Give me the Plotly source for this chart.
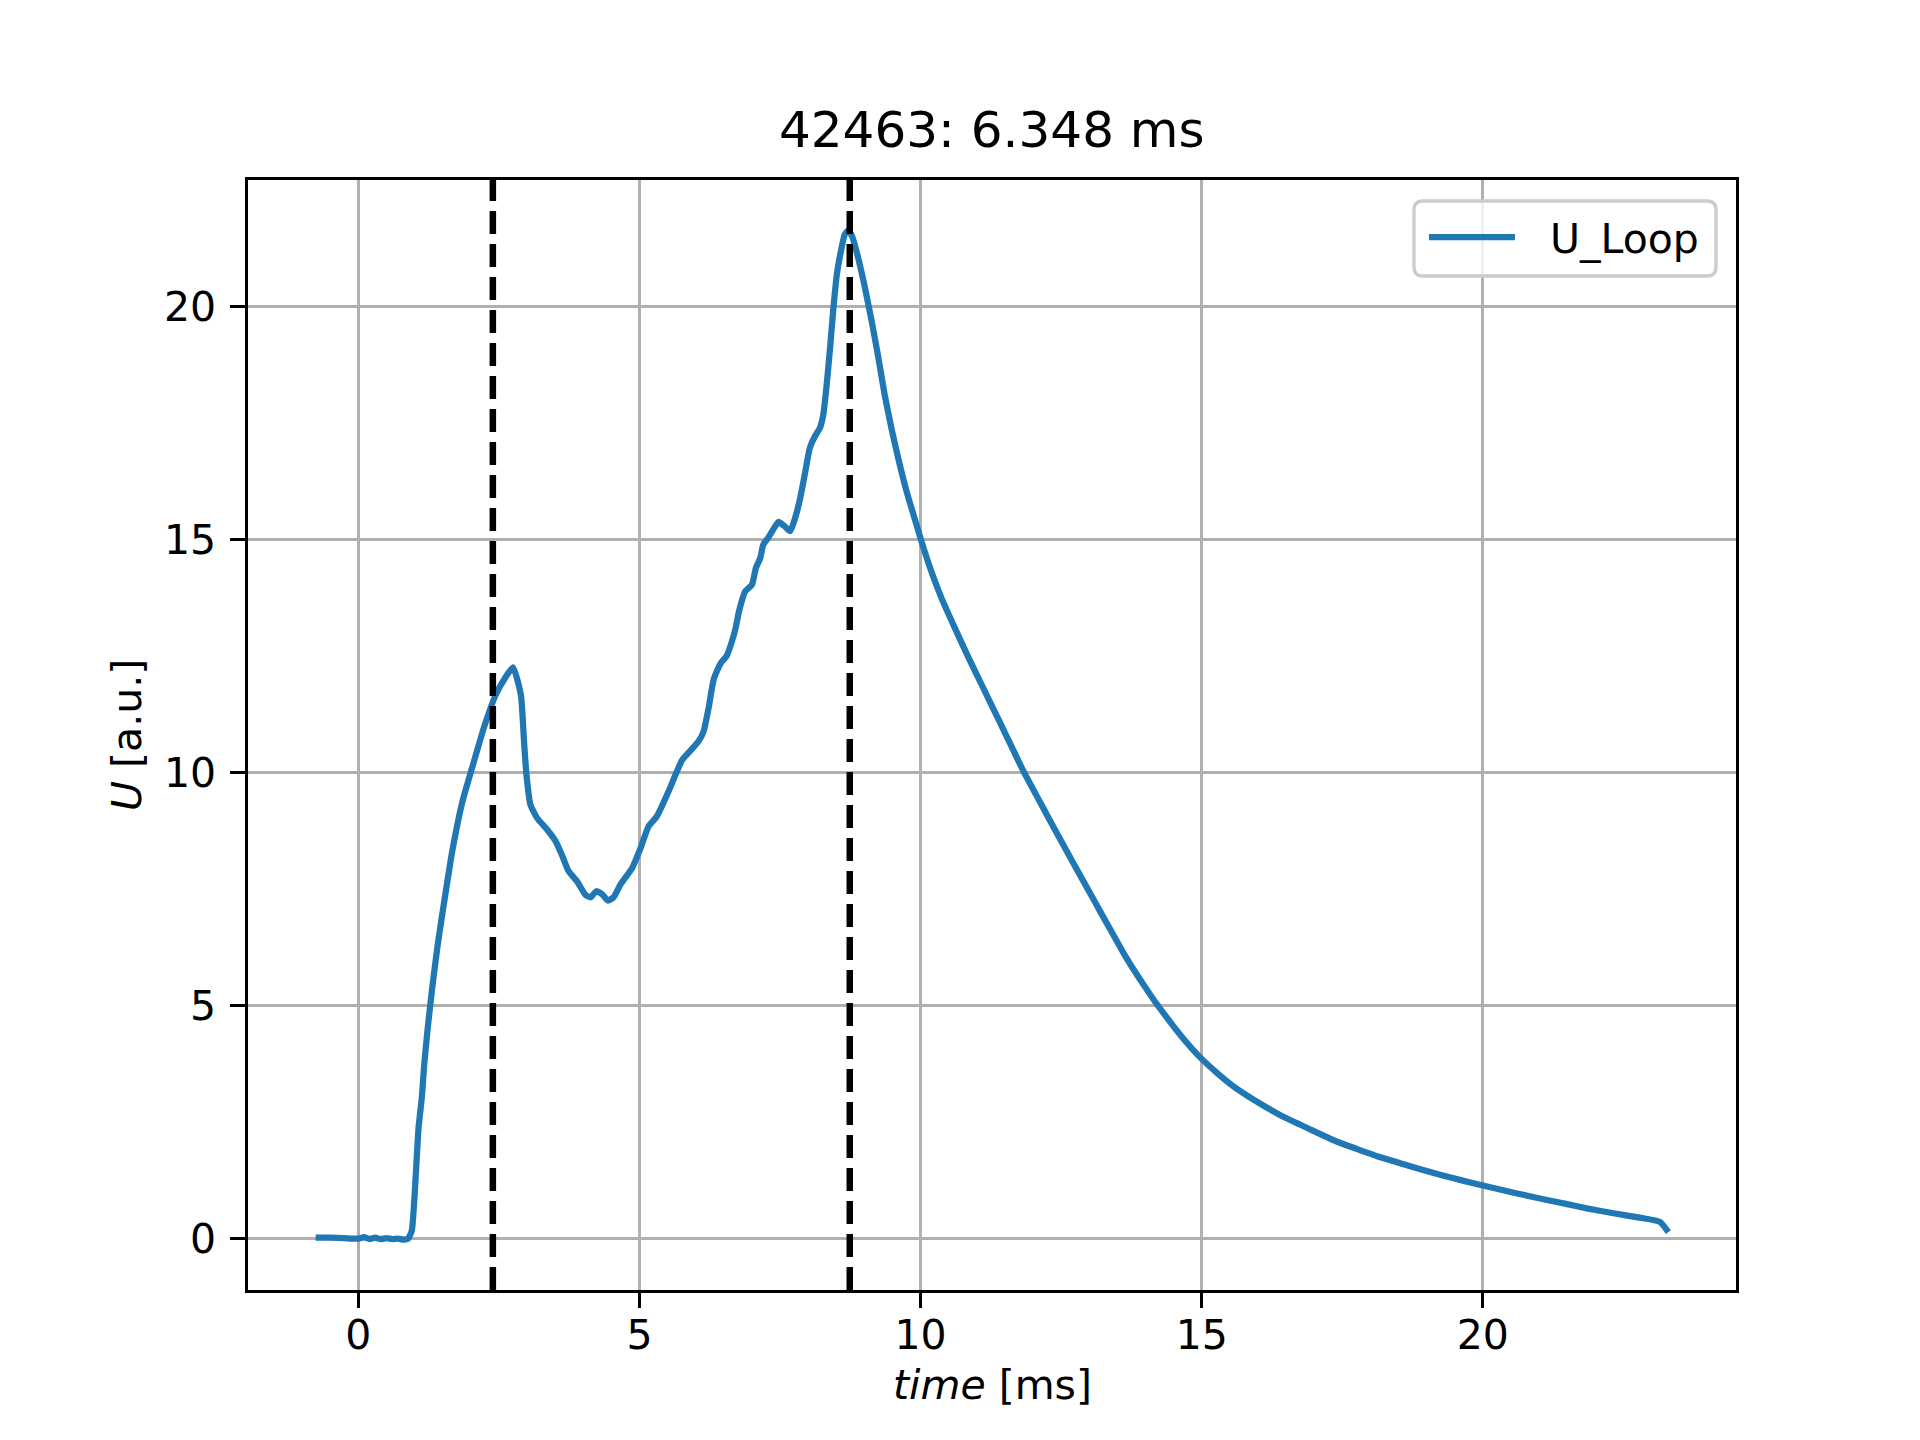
"""
Loop voltage trace for shot 42463 with the two marker times (dashed).
"""

import plotly.graph_objects as go

# time base [ms] and loop voltage [a.u.]
time_ms = [
    -0.76, -0.5, -0.25, 0.0, 0.1, 0.2, 0.3, 0.4, 0.5, 0.6, 0.7, 0.8, 0.88,
    0.95, 1.01, 1.07, 1.13, 1.17, 1.23, 1.31, 1.41, 1.53, 1.67, 1.85, 2.03,
    2.24, 2.44, 2.62, 2.75, 2.89, 2.95, 2.99, 3.06, 3.18, 3.36, 3.51, 3.63,
    3.74, 3.89, 4.04, 4.13, 4.23, 4.34, 4.44, 4.54, 4.66, 4.87, 5.02, 5.16,
    5.31, 5.52, 5.64, 5.76, 5.87, 6.05, 6.14, 6.23, 6.32, 6.44, 6.55, 6.64,
    6.71, 6.77, 6.88, 7.0, 7.07, 7.15, 7.2, 7.29, 7.38, 7.47, 7.58, 7.68,
    7.77, 7.86, 7.94, 8.03, 8.12, 8.21, 8.27, 8.33, 8.39, 8.45, 8.51, 8.57,
    8.65, 8.71, 8.78, 8.89, 9.01, 9.13, 9.25, 9.36, 9.48, 9.6, 9.75, 9.9,
    10.0, 10.19, 10.37, 10.61, 10.84, 11.08, 11.3, 11.49, 11.82, 12.05, 12.26,
    12.5, 12.74, 13.0, 13.21, 13.42, 13.62, 13.82, 14.0, 14.18, 14.36, 14.53,
    14.69, 14.85, 15.0, 15.25, 15.52, 15.78, 16.05, 16.46, 16.94, 17.41, 17.75,
    18.12, 18.5, 18.89, 19.27, 19.66, 20.0, 20.57, 21.14, 21.5, 21.85, 22.3,
    22.79, 23.15, 23.3,
]
u_loop = [
    0.01, 0.01, 0.0, -0.01, 0.02, -0.02, 0.01, -0.02, 0.0, -0.02, -0.01, -0.03, -0.02,
    0.16, 1.12, 2.36, 3.04, 3.71, 4.47, 5.34, 6.29, 7.25, 8.31, 9.37, 10.13,
    10.99, 11.66, 12.05, 12.26, 11.67, 10.6, 9.95, 9.31, 9.02, 8.77, 8.52, 8.2,
    7.88, 7.66, 7.37, 7.32, 7.45, 7.38, 7.25, 7.32, 7.59, 7.95, 8.38, 8.84,
    9.06, 9.6, 9.95, 10.27, 10.42, 10.67, 10.88, 11.39, 12.0, 12.34, 12.5, 12.8,
    13.1, 13.46, 13.89, 14.03, 14.39, 14.61, 14.89, 15.04, 15.22, 15.38, 15.29, 15.18,
    15.47, 15.9, 16.4, 16.97, 17.22, 17.4, 17.69, 18.33, 19.12, 19.98, 20.69, 21.12,
    21.55, 21.64, 21.52, 21.05, 20.41, 19.69, 18.9, 18.12, 17.4, 16.76, 16.04, 15.43,
    15.02, 14.32, 13.75, 13.1, 12.5, 11.9, 11.35, 10.88, 10.05, 9.53, 9.06,
    8.53, 8.0, 7.44, 6.98, 6.53, 6.1, 5.71, 5.38, 5.06, 4.77, 4.5,
    4.26, 4.04, 3.85, 3.57, 3.3, 3.08, 2.88, 2.6, 2.33, 2.07, 1.92,
    1.76, 1.62, 1.48, 1.35, 1.23, 1.13, 0.97, 0.82, 0.73, 0.64, 0.54,
    0.44, 0.35, 0.13,
]

# marker times [ms]
marker_times = [2.392, 8.740]

shot = 42463
x_ticks = [0, 5, 10, 15, 20]
y_ticks = [0, 5, 10, 15, 20]

FONT = 'DejaVu Sans'
W, H = 1920, 1440
# axes box in pixels (matplotlib default subplot params)
L, R, T, B = 240, 1728, 172, 1282


def padded(vals, frac=0.05):
    lo, hi = min(vals), max(vals)
    span = hi - lo
    return [lo - frac * span, hi + frac * span]


def px(x):
    # pixel column -> paper x
    return (x - L) / (R - L)


def py(y):
    # pixel row -> paper y
    return (B - y) / (B - T)


fig = go.Figure()

fig.add_trace(go.Scatter(
    x=time_ms,
    y=u_loop,
    mode='lines',
    name='U_Loop',
    line=dict(color='#1f77b4', width=6.25, shape='spline', smoothing=0.5),
    showlegend=False,
))

for t in marker_times:
    fig.add_vline(x=t, line=dict(color='black', width=6.5, dash='23px,10px'), layer='above')

axis_common = dict(
    showline=True,
    linecolor='black',
    linewidth=3.3,
    mirror=True,
    ticks='outside',
    ticklen=14.6,
    tickwidth=3.3,
    tickcolor='black',
    showgrid=True,
    gridcolor='#b0b0b0',
    gridwidth=3.3,
    zeroline=False,
    tickfont=dict(family=FONT, size=41, color='black'),
)

fig.update_xaxes(range=padded(time_ms), tickvals=x_ticks, ticklabelstandoff=-8, **axis_common)
fig.update_yaxes(range=padded(u_loop), tickvals=y_ticks, ticklabelstandoff=6, **axis_common)

delta = marker_times[1] - marker_times[0]

fig.add_annotation(
    text=f'{shot}: {delta:.3f} ms',
    xref='paper', yref='paper', x=0.5, y=1,
    xanchor='center', yanchor='bottom', yshift=19,
    showarrow=False, font=dict(family=FONT, size=50, color='black'),
)
fig.add_annotation(
    text='<i>time</i> [ms]',
    xref='paper', yref='paper', x=0.5, y=py(1377),
    xanchor='center', yanchor='middle',
    showarrow=False, font=dict(family=FONT, size=41, color='black'),
)
fig.add_annotation(
    text='<i>U</i> [a.u.]',
    xref='paper', yref='paper', x=px(119), y=0.5,
    xanchor='center', yanchor='middle', textangle=-90,
    showarrow=False, font=dict(family=FONT, size=41, color='black'),
)

# legend box (rounded) drawn by hand to match the matplotlib frame
lx0, lx1, ly0, ly1, rad = 1406, 1708, 193, 268, 9
legend_path = (
    f'M {px(lx0 + rad)},{py(ly0)} L {px(lx1 - rad)},{py(ly0)} '
    f'Q {px(lx1)},{py(ly0)} {px(lx1)},{py(ly0 + rad)} '
    f'L {px(lx1)},{py(ly1 - rad)} Q {px(lx1)},{py(ly1)} {px(lx1 - rad)},{py(ly1)} '
    f'L {px(lx0 + rad)},{py(ly1)} Q {px(lx0)},{py(ly1)} {px(lx0)},{py(ly1 - rad)} '
    f'L {px(lx0)},{py(ly0 + rad)} Q {px(lx0)},{py(ly0)} {px(lx0 + rad)},{py(ly0)} Z'
)
fig.add_shape(
    type='path', path=legend_path, xref='paper', yref='paper',
    fillcolor='rgba(255,255,255,0.8)', line=dict(color='#cccccc', width=3.3),
    layer='above',
)
fig.add_shape(
    type='line', xref='paper', yref='paper',
    x0=px(1421), x1=px(1507), y0=py(229), y1=py(229),
    line=dict(color='#1f77b4', width=6.25), layer='above',
)
fig.add_annotation(
    text='U_Loop',
    xref='paper', yref='paper', x=px(1540), y=py(231),
    xanchor='left', yanchor='middle',
    showarrow=False, font=dict(family=FONT, size=41, color='black'),
)

fig.update_layout(
    width=W,
    height=H,
    margin=dict(l=L, r=W - R, t=T, b=H - B, pad=0),
    paper_bgcolor='white',
    plot_bgcolor='white',
    font=dict(family=FONT, size=41, color='black'),
    showlegend=False,
)

fig.write_html('out.html')
